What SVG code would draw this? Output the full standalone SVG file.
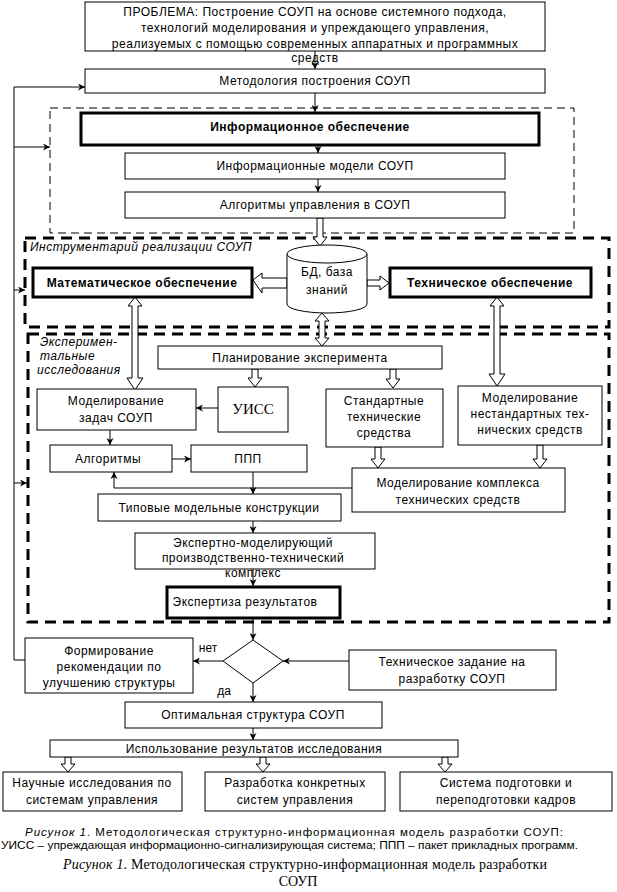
<svg xmlns="http://www.w3.org/2000/svg" width="617" height="892" viewBox="0 0 617 892">
<defs>
<marker id="ah" viewBox="0 0 10 10" refX="10" refY="5" markerWidth="7" markerHeight="7" orient="auto" markerUnits="userSpaceOnUse">
<path d="M0,0 L10,5 L0,10 L3,5 Z" fill="#000"/>
</marker>
<style>
.b{fill:#fff;stroke:#000;stroke-width:1}
.tb{fill:#fff;stroke:#000;stroke-width:3}
.t{font-family:"Liberation Sans",Arial,sans-serif;font-size:12px;letter-spacing:0.5px;text-anchor:middle;fill:#000}
.bold{font-weight:bold}
.it{font-style:italic;text-anchor:start}
.l{fill:none;stroke:#000;stroke-width:1}
.ha{fill:#fff;stroke:#000;stroke-width:1}
.dash{fill:none;stroke:#000;stroke-width:1;stroke-dasharray:8,5}
.tdash{fill:none;stroke:#000;stroke-width:3;stroke-dasharray:11,7}
.cap{font-family:"Liberation Sans",Arial,sans-serif;font-size:11.5px;fill:#000}
.caps{font-family:"Liberation Serif","Times New Roman",serif;font-size:14px;fill:#000}
</style>
</defs>
<rect width="617" height="892" fill="#fff"/>

<g id="frames">
<rect class="dash" x="50" y="108" width="524" height="125"/>
<rect class="tdash" x="25" y="238" width="584" height="89"/>
<rect class="tdash" x="28" y="334" width="581" height="288"/>
<text class="t it" x="30" y="251">Инструментарий реализации СОУП</text>
<text class="t it" x="40" y="346">Эксперимен-</text>
<text class="t it" x="40" y="360">тальные</text>
<text class="t it" x="37" y="374">исследования</text>
</g>

<g id="connectors">
<line class="l" x1="315" y1="51" x2="315" y2="69" marker-end="url(#ah)"/>
<line class="l" x1="315" y1="93" x2="315" y2="112" marker-end="url(#ah)"/>
<line class="l" x1="318" y1="145" x2="318" y2="153" marker-end="url(#ah)"/>
<line class="l" x1="318" y1="179" x2="318" y2="192" marker-end="url(#ah)"/>
<polyline class="l" points="193,660 14,660 14,87 85,87" marker-end="url(#ah)"/>
<line class="l" x1="14" y1="147" x2="50" y2="147" marker-end="url(#ah)"/>
<line class="l" x1="14" y1="290" x2="25" y2="290" marker-end="url(#ah)"/>
<line class="l" x1="14" y1="483" x2="27" y2="483" marker-end="url(#ah)"/>
<path class="ha" d="M317,218 L317,237 L313,237 L320,246 L327,237 L323,237 L323,218 Z"/>
<path class="ha" d="M253,280 L262,273 L262,278 L287,278 L287,288 L262,288 L262,293 Z"/>
<path class="ha" d="M389,283 L380,276 L380,280 L367,280 L367,286 L380,286 L380,290 Z"/>
<path class="ha" d="M135,297 L128,306 L132,306 L132,378 L127,378 L135,390 L143,378 L138,378 L138,306 L142,306 Z"/>
<path class="ha" d="M322,313 L315,321 L319,321 L319,338 L315,338 L322,346 L329,338 L325,338 L325,321 L329,321 Z"/>
<path class="ha" d="M497,297 L490,306 L494,306 L494,374 L489,374 L497,386 L505,374 L500,374 L500,306 L504,306 Z"/>
<path class="ha" d="M252,369 L252,378 L248,378 L255,387 L262,378 L258,378 L258,369 Z"/>
<path class="ha" d="M390,369 L390,379 L386,379 L393,388 L400,379 L396,379 L396,369 Z"/>
<path class="ha" d="M375,447 L375,459 L371,459 L378,468 L385,459 L381,459 L381,447 Z"/>
<path class="ha" d="M537,445 L537,459 L533,459 L540,468 L547,459 L543,459 L543,445 Z"/>
<path class="ha" d="M65,757 L65,764 L61,764 L68,772 L75,764 L71,764 L71,757 Z"/>
<path class="ha" d="M260,757 L260,764 L256,764 L263,772 L270,764 L266,764 L266,757 Z"/>
<path class="ha" d="M442,757 L442,764 L438,764 L445,772 L452,764 L448,764 L448,757 Z"/>
<line class="l" x1="218" y1="408" x2="196" y2="408" marker-end="url(#ah)"/>
<line class="l" x1="110" y1="430" x2="110" y2="445" marker-end="url(#ah)"/>
<line class="l" x1="172" y1="459" x2="191" y2="459" marker-end="url(#ah)"/>
<polyline class="l" points="352,488 114,488 114,472" marker-end="url(#ah)"/>
<line class="l" x1="253" y1="472" x2="253" y2="494" marker-end="url(#ah)"/>
<line class="l" x1="253" y1="521" x2="253" y2="533" marker-end="url(#ah)"/>
<line class="l" x1="253" y1="569" x2="253" y2="586" marker-end="url(#ah)"/>
<line class="l" x1="253" y1="618" x2="253" y2="640" marker-end="url(#ah)"/>
<line class="l" x1="223" y1="661" x2="193" y2="661" marker-end="url(#ah)"/>
<line class="l" x1="349" y1="661" x2="283" y2="661" marker-end="url(#ah)"/>
<line class="l" x1="253" y1="683" x2="253" y2="702" marker-end="url(#ah)"/>
<line class="l" x1="253" y1="728" x2="253" y2="740" marker-end="url(#ah)"/>
<text class="t" x="208" y="652" style="letter-spacing:0">нет</text>
<text class="t" x="224" y="695" style="letter-spacing:0">да</text>
</g>

<g id="n-problem">
<rect class="b" x="85" y="2" width="460" height="49"/>
<text class="t" x="315" y="16">ПРОБЛЕМА: Построение СОУП на основе системного подхода,</text>
<text class="t" x="315" y="32">технологий моделирования и упреждающего управления,</text>
<text class="t" x="315" y="48">реализуемых с помощью современных аппаратных и программных</text>
<text class="t" x="315" y="62">средств</text>
</g>
<g id="n-method">
<rect class="b" x="85" y="69" width="460" height="24"/>
<text class="t" x="315" y="85">Методология построения СОУП</text>
</g>
<g id="n-info">
<rect class="tb" x="81" y="113" width="458" height="32"/>
<text class="t bold" x="310" y="131">Информационное обеспечение</text>
</g>
<g id="n-infomodels">
<rect class="b" x="125" y="153" width="380" height="26"/>
<text class="t" x="315" y="170">Информационные модели СОУП</text>
</g>
<g id="n-algctl">
<rect class="b" x="125" y="192" width="380" height="26"/>
<text class="t" x="315" y="209">Алгоритмы управления в СОУП</text>
</g>
<g id="n-math">
<rect class="tb" x="33" y="268" width="219" height="29"/>
<text class="t bold" x="142" y="287">Математическое обеспечение</text>
</g>
<g id="n-db">
<path class="b" d="M287,254 L287,304 A40,9 0 0,0 367,304 L367,254"/>
<ellipse class="b" cx="327" cy="254" rx="40" ry="9"/>
<text class="t" x="327" y="276">БД, база</text>
<text class="t" x="327" y="294">знаний</text>
</g>
<g id="n-tech">
<rect class="tb" x="390" y="268" width="201" height="29"/>
<text class="t bold" x="490" y="287">Техническое обеспечение</text>
</g>
<g id="n-plan">
<rect class="b" x="158" y="346" width="284" height="23"/>
<text class="t" x="300" y="362">Планирование эксперимента</text>
</g>
<g id="n-modtask">
<rect class="b" x="37" y="389" width="159" height="41"/>
<text class="t" x="116" y="405">Моделирование</text>
<text class="t" x="116" y="422">задач СОУП</text>
</g>
<g id="n-uiss">
<rect class="b" x="218" y="387" width="70" height="45"/>
<text x="253" y="414" style="font-family:'Liberation Serif','Times New Roman',serif;font-size:15px;text-anchor:middle">УИСС</text>
</g>
<g id="n-std">
<rect class="b" x="326" y="389" width="117" height="58"/>
<text class="t" x="384" y="405">Стандартные</text>
<text class="t" x="384" y="421">технические</text>
<text class="t" x="384" y="437">средства</text>
</g>
<g id="n-nonstd">
<rect class="b" x="458" y="386" width="144" height="59"/>
<text class="t" x="530" y="402">Моделирование</text>
<text class="t" x="530" y="418">нестандартных тех-</text>
<text class="t" x="530" y="434">нических средств</text>
</g>
<g id="n-alg">
<rect class="b" x="50" y="445" width="122" height="27"/>
<text class="t" x="108" y="463">Алгоритмы</text>
</g>
<g id="n-ppp">
<rect class="b" x="191" y="445" width="116" height="27"/>
<text class="t" x="248" y="463">ППП</text>
</g>
<g id="n-complex">
<rect class="b" x="352" y="468" width="213" height="44"/>
<text class="t" x="458" y="487">Моделирование комплекса</text>
<text class="t" x="458" y="504">технических средств</text>
</g>
<g id="n-typical">
<rect class="b" x="98" y="494" width="243" height="27"/>
<text class="t" x="219" y="512">Типовые модельные конструкции</text>
</g>
<g id="n-expert">
<rect class="b" x="135" y="533" width="240" height="36"/>
<text class="t" x="253" y="547">Экспертно-моделирующий</text>
<text class="t" x="253" y="562">производственно-технический</text>
<text class="t" x="253" y="577">комплекс</text>
</g>
<g id="n-expertise">
<rect class="tb" x="167" y="587" width="173" height="31"/>
<text class="t" x="245" y="606">Экспертиза результатов</text>
</g>
<g id="n-decision">
<polygon class="b" points="253,640 283,661 253,683 223,661"/>
</g>
<g id="n-recom">
<rect class="b" x="25" y="638" width="168" height="55"/>
<text class="t" x="109" y="655">Формирование</text>
<text class="t" x="109" y="671">рекомендации по</text>
<text class="t" x="109" y="687">улучшению структуры</text>
</g>
<g id="n-tz">
<rect class="b" x="349" y="650" width="207" height="40"/>
<text class="t" x="452" y="666">Техническое задание на</text>
<text class="t" x="452" y="683">разработку СОУП</text>
</g>
<g id="n-opt">
<rect class="b" x="125" y="702" width="257" height="26"/>
<text class="t" x="253" y="719">Оптимальная структура СОУП</text>
</g>
<g id="n-use">
<rect class="b" x="50" y="740" width="408" height="17"/>
<text class="t" x="254" y="753">Использование результатов исследования</text>
</g>
<g id="n-sci">
<rect class="b" x="3" y="772" width="179" height="39"/>
<text class="t" x="92" y="787">Научные исследования по</text>
<text class="t" x="92" y="804">системам управления</text>
</g>
<g id="n-dev">
<rect class="b" x="205" y="772" width="180" height="39"/>
<text class="t" x="295" y="787">Разработка конкретных</text>
<text class="t" x="295" y="804">систем управления</text>
</g>
<g id="n-train">
<rect class="b" x="400" y="772" width="212" height="39"/>
<text class="t" x="506" y="787">Система подготовки и</text>
<text class="t" x="506" y="804">переподготовки кадров</text>
</g>

<g id="caption">
<text class="cap" x="25" y="836" textLength="538" lengthAdjust="spacing"><tspan font-style="italic">Рисунок 1</tspan>. Методологическая структурно-информационная модель разработки СОУП:</text>
<text class="cap" x="1" y="849" textLength="577" lengthAdjust="spacingAndGlyphs">УИСС – упреждающая информационно-сигнализирующая система; ППП – пакет прикладных программ.</text>
<text class="caps" x="63" y="869" textLength="484" lengthAdjust="spacing"><tspan font-style="italic">Рисунок 1</tspan>. Методологическая структурно-информационная модель разработки</text>
<text class="caps" x="298" y="886" style="text-anchor:middle">СОУП</text>
</g>
</svg>
